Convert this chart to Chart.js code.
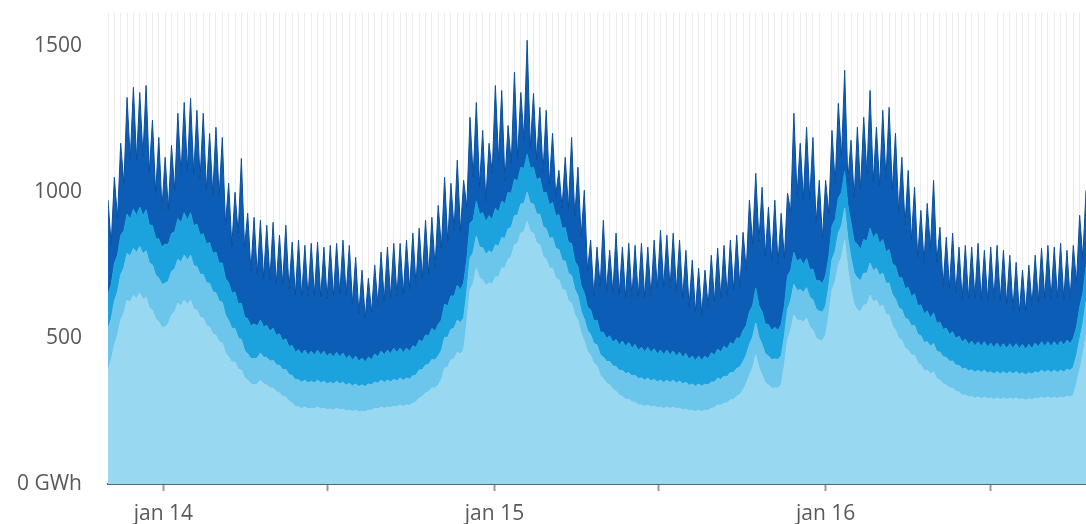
<!DOCTYPE html>
<html>
<head>
<meta charset="utf-8">
<script src="https://cdn.jsdelivr.net/npm/chart.js@4.4.1/dist/chart.umd.min.js"></script>
<style>
html,body{margin:0;padding:0;background:#fff;}
#wrap{width:1086px;height:524px;position:relative;}
</style>
</head>
<body>
<div id="wrap"><canvas id="c"></canvas></div>
<script>
// Daily gas volumes (GWh), sampled twice a week (weekday peak / weekend dip), from 1 Nov 2013
const STEP_DAYS = 3.5;

// Layer 1 (lightest, bottom)
const s1 = [
390,423,476,509,562,586,630,624,647,636,654,632,640,603,596,566,555,537,538,549,
579,590,620,610,630,615,630,598,596,572,568,543,538,514,510,487,483,449,435,417,
418,394,390,363,356,343,339,343,356,343,339,329,329,316,312,300,298,283,277,266,
264,259,264,257,260,257,264,257,260,254,257,254,260,254,257,250,253,248,253,247,
250,247,253,252,260,257,264,259,264,261,267,264,271,266,271,269,277,281,295,299,
312,316,329,329,339,358,397,401,425,429,452,446,459,552,664,687,740,705,700,680,
690,685,710,710,740,740,770,780,820,825,860,865,900,865,860,825,820,780,770,740,
740,705,699,667,664,627,620,580,560,515,490,455,440,413,405,373,360,345,340,324,
318,304,300,290,290,281,281,271,271,266,271,264,267,261,264,259,264,259,264,257,
260,254,257,250,253,248,253,248,253,252,260,261,271,269,277,278,288,290,301,307,
322,343,373,398,442,398,373,346,339,329,329,329,339,406,493,526,579,561,562,555,
568,538,527,500,493,492,510,577,664,692,750,778,836,735,664,615,596,590,613,615,
647,624,630,607,613,581,579,543,527,500,493,466,459,441,442,415,408,389,390,377,
384,360,356,343,339,329,329,317,315,305,305,298,300,294,298,293,298,292,295,290,
295,290,295,290,295,290,295,289,292,287,292,289,295,292,298,293,298,293,298,293,
298,295,301,298,305,343,390,440,510
];

// Layer 2
const s2 = [
140,142,150,150,155,155,160,157,160,157,160,157,160,155,155,150,150,147,150,147,
150,147,150,150,155,152,155,150,150,147,150,147,150,145,145,140,140,130,125,117,
115,107,105,95,90,87,90,89,93,91,95,92,95,92,95,92,95,92,95,91,
93,90,92,89,92,89,92,89,92,89,92,89,92,89,92,89,92,88,90,87,
90,87,90,87,90,88,92,89,92,89,92,89,92,89,92,90,94,92,96,93,
96,94,98,96,100,100,105,102,105,105,110,107,110,107,110,107,110,107,110,107,
110,107,110,105,105,102,105,100,100,97,100,97,100,97,100,100,105,102,105,102,
105,102,105,100,100,95,95,87,85,77,75,71,72,69,72,71,75,75,80,80,
85,85,90,88,92,89,92,90,93,90,92,89,92,89,92,89,92,89,92,89,
92,89,92,88,90,87,90,87,90,87,90,88,92,89,92,90,94,92,95,94,
98,99,105,105,110,105,105,100,100,97,100,97,100,100,105,102,105,102,105,102,
105,102,105,100,100,97,100,100,105,105,110,107,110,107,110,107,110,107,110,107,
110,107,110,107,110,107,110,106,108,104,105,102,105,101,102,98,100,96,98,95,
98,94,96,93,95,91,93,90,92,89,92,89,92,89,92,89,92,88,90,87,
90,87,90,87,90,87,90,87,90,87,90,87,90,88,92,89,92,89,92,89,
92,89,92,91,95,97,105,107,115
];

// Layer 3
const s3 = [
120,117,130,125,135,127,135,127,135,127,135,130,140,130,135,127,135,127,135,125,
130,127,140,135,145,137,145,137,145,135,140,132,140,132,140,130,135,125,130,120,
125,117,125,115,120,112,120,109,113,104,110,102,110,101,108,99,105,96,103,95,
103,95,103,95,103,95,103,95,103,94,100,92,100,92,100,90,96,88,96,86,
92,84,92,86,96,90,100,94,103,97,106,97,103,95,103,95,103,95,103,95,
103,97,106,99,108,104,115,107,115,110,120,112,120,112,120,112,120,112,120,112,
120,115,125,117,125,117,125,117,125,117,125,120,130,120,125,117,125,117,125,115,
120,112,120,110,115,105,110,97,100,87,90,80,85,77,85,77,85,79,88,82,
92,88,100,94,103,96,105,97,105,97,105,97,105,96,103,95,103,94,100,92,
100,91,98,89,96,88,96,88,96,90,100,92,100,94,103,95,103,96,105,98,
106,101,112,108,120,108,112,102,108,100,108,100,108,104,115,105,110,100,105,95,
100,95,105,97,105,97,105,102,115,110,120,115,125,115,120,110,115,107,115,110,
120,112,120,110,115,107,115,106,112,103,110,102,110,101,108,99,106,98,105,97,
105,96,103,94,100,92,100,92,100,92,100,91,98,90,98,90,98,90,98,90,
98,89,96,88,96,88,96,88,96,88,96,89,98,90,98,90,98,90,98,91,
100,92,100,92,100,97,110,107,120
];

// Layer 4 (dark blue, top)
const s4 = [
323,140,295,126,316,159,400,205,418,191,393,205,426,179,361,155,348,133,297,120,
302,142,361,165,378,171,392,177,390,192,413,185,374,202,428,229,430,186,341,162,
342,240,496,239,362,189,365,178,342,168,343,179,363,176,338,194,389,197,354,196,
376,198,359,201,370,206,370,200,357,198,369,207,373,216,387,218,377,194,338,165,
301,151,270,163,304,178,339,187,353,192,360,195,359,201,370,214,386,216,383,219,
393,212,381,221,408,246,434,221,386,227,428,201,352,178,363,147,338,96,282,71,
248,160,421,176,379,80,229,103,366,78,257,100,391,70,254,70,241,70,281,70,
237,70,151,70,241,117,363,153,341,168,352,126,239,85,250,157,384,164,293,170,
365,174,322,167,340,176,340,184,356,186,344,194,372,227,411,234,394,230,404,225,
384,205,354,182,328,166,301,159,294,180,334,185,345,186,346,184,351,187,352,174,
337,190,383,213,393,220,427,235,402,240,436,230,381,163,284,201,477,227,396,224,
450,241,451,198,343,155,326,148,328,122,325,122,347,81,284,149,402,206,419,231,
472,193,363,198,443,251,487,252,455,224,412,218,401,193,365,166,324,177,369,238,
454,211,325,148,312,161,338,157,305,149,321,157,322,166,337,161,313,162,329,168,
335,164,320,153,303,137,279,123,255,130,272,147,301,156,320,166,330,163,324,166,
335,157,308,154,318,153,316,120,262
];

// Axis labels
const yTickValues = [0, 500, 1000, 1500];
const yUnitLabel = '0 GWh';
const xLabelDays = [61, 426, 791];          // 1 Jan 2014, 2015, 2016
const xLabels = ['jan 14', 'jan 15', 'jan 16'];
const xMidDays = [242, 607, 973];            // 1 Jul 2014, 2015, 2016

const n = Math.min(s1.length, s2.length, s3.length, s4.length);
const days = Array.from({length: n}, (_, i) => i * STEP_DAYS);
const maxDay = days[n - 1];

const majorDays = xLabelDays.concat(xMidDays);
const weekDays = [];
for (let d = 0; d <= maxDay; d += 7) if (!majorDays.includes(d)) weekDays.push(d);
const tickDays = weekDays.concat(majorDays).sort((a, b) => a - b);
const isMajor = v => majorDays.includes(v);

const colors = ['#98d8f0', '#6cc5eb', '#1ca3dd', '#0b5db6'];
const lineColors = ['#98d8f0', '#6cc5eb', '#1ca3dd', '#0c4f9c'];
const series = [s1, s2, s3, s4];

const datasets = series.map((arr, k) => ({
  label: 'serie ' + (k + 1),
  data: arr.slice(0, n).map((v, i) => ({x: days[i], y: v})),
  backgroundColor: colors[k],
  borderColor: lineColors[k],
  borderWidth: 1,
  fill: k === 0 ? 'origin' : '-1',
  pointRadius: 0,
  pointHoverRadius: 0,
  tension: 0
}));

const FONT = {family: "'Open Sans', 'DejaVu Sans', sans-serif", size: 21};
const TEXT = '#595959';

new Chart(document.getElementById('c'), {
  type: 'line',
  data: {datasets},
  options: {
    responsive: true,
    maintainAspectRatio: false,
    animation: false,
    events: [],
    layout: {padding: {top: 0, right: 0, bottom: 0, left: 0}},
    plugins: {legend: {display: false}, tooltip: {enabled: false}},
    scales: {
      x: {
        type: 'linear',
        min: 0,
        max: maxDay,
        afterBuildTicks: s => { s.ticks = tickDays.map(v => ({value: v})); },
        afterFit: s => { s.height = 40; s.paddingRight = 0; s.paddingLeft = 0; },
        ticks: {
          autoSkip: false, maxRotation: 0, minRotation: 0, padding: 10, z: 1,
          font: FONT, color: TEXT,
          callback: v => { const k = xLabelDays.indexOf(v); return k >= 0 ? xLabels[k] : ''; }
        },
        grid: {
          drawOnChartArea: true,
          color: ctx => (ctx.tick && isMajor(ctx.tick.value)) ? 'rgba(0,0,0,0)' : 'rgba(0,0,0,0.075)',
          tickColor: ctx => (ctx.tick && isMajor(ctx.tick.value)) ? '#9a9a9a' : 'rgba(0,0,0,0)',
          lineWidth: 1,
          tickWidth: 2,
          tickLength: 7
        },
        border: {display: true, color: '#566576', width: 2}
      },
      y: {
        type: 'linear',
        stacked: true,
        min: 0,
        max: 1616,
        afterBuildTicks: s => { s.ticks = yTickValues.map(v => ({value: v})); },
        afterFit: s => { s.width = 108; },
        ticks: {
          padding: 0, font: FONT, color: TEXT,
          callback: v => v === 0 ? yUnitLabel : String(v)
        },
        grid: {display: false, drawTicks: true, tickLength: 26},
        border: {display: false}
      }
    }
  }
});
</script>
</body>
</html>
